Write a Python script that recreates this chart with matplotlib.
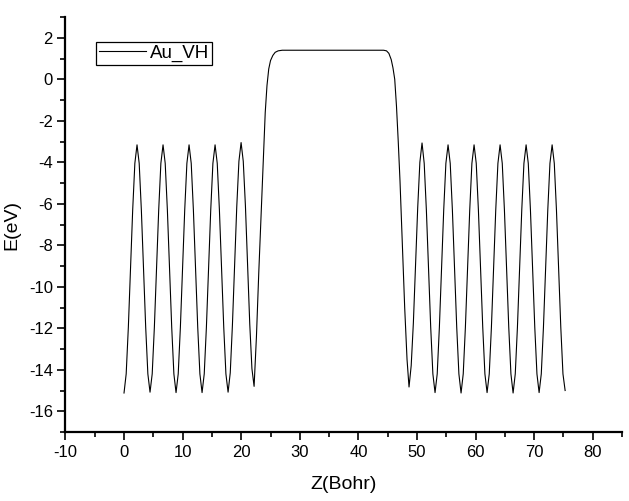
import matplotlib
matplotlib.use("Agg")
import matplotlib.pyplot as plt
from matplotlib.ticker import MultipleLocator

plt.rcParams['font.family'] = ['Liberation Sans', 'DejaVu Sans']
plt.rcParams['axes.unicode_minus'] = False

series_name = "Au_VH"

# left electrode oscillations (Bohr, eV)
z_left = [0.00, 0.37, 0.74, 1.11, 1.48, 1.85, 2.22, 2.59, 2.96, 3.33,
          3.70, 4.07, 4.44, 4.81, 5.18, 5.55, 5.92, 6.29, 6.66, 7.03,
          7.40, 7.77, 8.14, 8.51, 8.88, 9.25, 9.62, 9.99, 10.36, 10.73,
          11.10, 11.47, 11.84, 12.21, 12.58, 12.95, 13.32, 13.69, 14.06, 14.43,
          14.80, 15.17, 15.54, 15.91, 16.28, 16.65, 17.02, 17.39, 17.76, 18.13,
          18.50, 18.87, 19.24, 19.61, 19.98, 20.35, 20.72, 21.09, 21.46, 21.83]
e_left = [-15.12, -14.20, -11.95, -9.13, -6.30, -4.05, -3.16, -4.05, -6.30, -9.13,
          -11.95, -14.20, -15.08, -14.20, -11.95, -9.13, -6.30, -4.05, -3.16, -4.05,
          -6.30, -9.13, -11.95, -14.20, -15.10, -14.20, -11.95, -9.13, -6.30, -4.05,
          -3.16, -4.05, -6.30, -9.13, -11.95, -14.20, -15.10, -14.20, -11.95, -9.13,
          -6.30, -4.05, -3.16, -4.05, -6.30, -9.13, -11.95, -14.20, -15.08, -14.15,
          -11.85, -9.00, -6.15, -3.95, -3.05, -3.95, -6.10, -8.95, -11.80, -13.95]

# barrier region (rise, plateau, fall)
z_mid = [22.20, 22.60, 23.00, 23.40, 23.80, 24.10, 24.40, 24.70, 25.00, 25.40,
         25.80, 26.30, 27.00, 30.00, 35.00, 40.00, 44.30, 44.80, 45.20, 45.60,
         45.90, 46.20, 46.50, 46.80, 47.10, 47.50, 47.90, 48.30]
e_mid = [-14.80, -12.40, -9.30, -6.50, -3.80, -1.60, -0.30, 0.50, 0.90, 1.15,
         1.30, 1.37, 1.40, 1.40, 1.40, 1.40, 1.40, 1.37, 1.25, 0.95,
         0.55, 0.00, -1.30, -3.00, -4.90, -8.00, -11.00, -13.50]

# right electrode oscillations
z_right = [48.64, 49.01, 49.38, 49.75, 50.12, 50.49, 50.86, 51.23, 51.60, 51.97,
           52.34, 52.71, 53.08, 53.45, 53.82, 54.19, 54.56, 54.93, 55.30, 55.67,
           56.04, 56.41, 56.78, 57.15, 57.52, 57.89, 58.26, 58.63, 59.00, 59.37,
           59.74, 60.11, 60.48, 60.85, 61.22, 61.59, 61.96, 62.33, 62.70, 63.07,
           63.44, 63.81, 64.18, 64.55, 64.92, 65.29, 65.66, 66.03, 66.40, 66.77,
           67.14, 67.51, 67.88, 68.25, 68.62, 68.99, 69.36, 69.73, 70.10, 70.47,
           70.84, 71.21, 71.58, 71.95, 72.32, 72.69, 73.06, 73.43, 73.80, 74.17,
           74.54, 74.91, 75.28]
e_right = [-14.83, -13.80, -11.75, -9.00, -6.20, -4.00, -3.07, -4.05, -6.30, -9.13,
           -11.95, -14.20, -15.10, -14.20, -11.95, -9.13, -6.30, -4.05, -3.16, -4.05,
           -6.30, -9.13, -11.95, -14.20, -15.12, -14.20, -11.95, -9.13, -6.30, -4.05,
           -3.16, -4.05, -6.30, -9.13, -11.95, -14.20, -15.10, -14.20, -11.95, -9.13,
           -6.30, -4.05, -3.16, -4.05, -6.30, -9.13, -11.95, -14.20, -15.12, -14.20,
           -11.95, -9.13, -6.30, -4.05, -3.16, -4.05, -6.30, -9.13, -11.95, -14.20,
           -15.10, -14.20, -11.95, -9.13, -6.30, -4.05, -3.16, -4.05, -6.30, -9.13,
           -11.95, -14.20, -15.00]

z_all = z_left + z_mid + z_right
e_all = e_left + e_mid + e_right

fig = plt.figure(figsize=(6.29, 5.01), dpi=100)
ax = fig.add_axes([0.104, 0.1377, 0.885, 0.8283])

ax.plot(z_all, e_all, color='black', linewidth=0.8, label=series_name)

ax.set_xlim(-10, 85)
ax.set_ylim(-17, 3)
ax.xaxis.set_major_locator(MultipleLocator(10))
ax.xaxis.set_minor_locator(MultipleLocator(5))
ax.yaxis.set_major_locator(MultipleLocator(2))
ax.yaxis.set_minor_locator(MultipleLocator(1))

for side in ['top', 'right']:
    ax.spines[side].set_visible(False)
for side in ['left', 'bottom']:
    ax.spines[side].set_linewidth(1.6)

ax.tick_params(which='major', direction='out', length=6, width=1.2, labelsize=12, pad=3)
ax.tick_params(which='minor', direction='out', length=3.5, width=1.2)

ax.set_xlabel('Z(Bohr)', fontsize=14, labelpad=12)
ax.set_ylabel('E(eV)', fontsize=14, labelpad=6)

leg = ax.legend(loc='upper left', bbox_to_anchor=(0.055, 0.94), borderaxespad=0,
                fancybox=False, edgecolor='black', fontsize=13.5, handlelength=2.5,
                handletextpad=0.2, borderpad=0.15, framealpha=1)
leg.get_frame().set_linewidth(0.9)

fig.savefig('out.png', dpi=100)
